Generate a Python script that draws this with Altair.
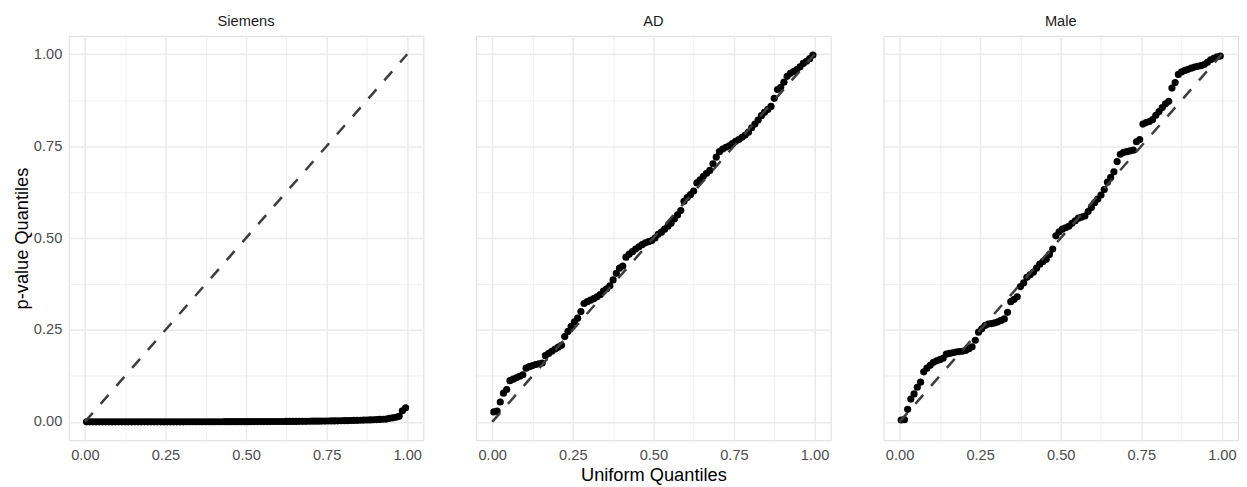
import altair as alt
import pandas as pd

PANELS = ["Siemens", "AD", "Male"]

SIEMENS_P = [
    0.00000, 0.00000, 0.00000, 0.00000, 0.00000, 0.00001, 0.00001, 0.00001, 0.00001, 0.00002,
    0.00002, 0.00002, 0.00003, 0.00003, 0.00003, 0.00004, 0.00004, 0.00005, 0.00005, 0.00006,
    0.00006, 0.00007, 0.00007, 0.00008, 0.00009, 0.00009, 0.00010, 0.00011, 0.00012, 0.00013,
    0.00014, 0.00015, 0.00016, 0.00017, 0.00018, 0.00019, 0.00021, 0.00022, 0.00024, 0.00025,
    0.00027, 0.00029, 0.00031, 0.00033, 0.00035, 0.00037, 0.00040, 0.00042, 0.00045, 0.00048,
    0.00051, 0.00054, 0.00058, 0.00061, 0.00065, 0.00069, 0.00073, 0.00078, 0.00083, 0.00088,
    0.00093, 0.00099, 0.00105, 0.00111, 0.00118, 0.00125, 0.00133, 0.00141, 0.00150, 0.00159,
    0.00169, 0.00180, 0.00191, 0.00203, 0.00216, 0.00230, 0.00245, 0.00261, 0.00278, 0.00296,
    0.00315, 0.00336, 0.00358, 0.00382, 0.00408, 0.00436, 0.00466, 0.00498, 0.00533, 0.00570,
    0.00610, 0.00655, 0.00705, 0.00760, 0.00950, 0.01100, 0.01250, 0.01500, 0.03000, 0.03800,
]

AD_P = [
    0.027, 0.029, 0.054, 0.078, 0.088, 0.112, 0.116, 0.120, 0.124, 0.128,
    0.146, 0.150, 0.153, 0.156, 0.158, 0.160, 0.180, 0.186, 0.192, 0.198,
    0.203, 0.208, 0.232, 0.246, 0.260, 0.272, 0.282, 0.300, 0.322, 0.327,
    0.331, 0.335, 0.340, 0.346, 0.356, 0.362, 0.370, 0.386, 0.404, 0.418,
    0.424, 0.448, 0.456, 0.463, 0.470, 0.476, 0.482, 0.487, 0.490, 0.493,
    0.500, 0.510, 0.516, 0.524, 0.532, 0.540, 0.552, 0.563, 0.575, 0.600,
    0.610, 0.618, 0.628, 0.650, 0.658, 0.668, 0.676, 0.684, 0.702, 0.720,
    0.735, 0.742, 0.747, 0.751, 0.757, 0.763, 0.768, 0.774, 0.780, 0.788,
    0.800, 0.810, 0.821, 0.833, 0.842, 0.850, 0.858, 0.880, 0.904, 0.910,
    0.924, 0.940, 0.948, 0.953, 0.958, 0.966, 0.975, 0.981, 0.988, 0.998,
]

MALE_P = [
    0.005, 0.006, 0.034, 0.062, 0.076, 0.094, 0.108, 0.136, 0.146, 0.154,
    0.162, 0.166, 0.169, 0.173, 0.184, 0.186, 0.188, 0.190, 0.191, 0.192,
    0.194, 0.199, 0.204, 0.222, 0.244, 0.253, 0.262, 0.266, 0.267, 0.269,
    0.272, 0.276, 0.280, 0.298, 0.327, 0.333, 0.340, 0.368, 0.378, 0.393,
    0.400, 0.407, 0.418, 0.429, 0.436, 0.442, 0.455, 0.470, 0.506, 0.517,
    0.524, 0.528, 0.532, 0.540, 0.547, 0.554, 0.557, 0.560, 0.572, 0.583,
    0.596, 0.606, 0.617, 0.632, 0.652, 0.665, 0.680, 0.708, 0.728, 0.733,
    0.735, 0.737, 0.739, 0.762, 0.768, 0.810, 0.814, 0.817, 0.822, 0.834,
    0.844, 0.855, 0.865, 0.872, 0.908, 0.923, 0.945, 0.952, 0.956, 0.959,
    0.962, 0.965, 0.967, 0.969, 0.972, 0.978, 0.985, 0.989, 0.993, 0.995,
]

DIAG = [0.0, 1.0]
GRID_TICKS = [0.0, 0.125, 0.25, 0.375, 0.5, 0.625, 0.75, 0.875, 1.0]

FONT = "Liberation Sans"
MAJOR_TEST = "abs(datum.value * 4 - round(datum.value * 4)) < 0.001"
LABEL_EXPR = MAJOR_TEST + " ? format(datum.value, '.2f') : ''"
GRID_WIDTH = {"condition": {"test": MAJOR_TEST, "value": 1.5}, "value": 0.8}


def panel_df(values):
    s = sorted(values)
    n = len(s)
    return pd.DataFrame({"u": [(i + 0.5) / n for i in range(n)], "p": s})


def make_axis(show_labels, title, title_pad):
    kw = dict(
        values=GRID_TICKS,
        labelExpr=LABEL_EXPR,
        grid=True,
        gridColor="#EBEBEB",
        gridWidth=GRID_WIDTH,
        domain=False,
        ticks=False,
        tickSize=0,
        labels=show_labels,
        labelFont=FONT,
        labelFontSize=14.7,
        labelColor="#4D4D4D",
        labelPadding=7,
        titleFont=FONT,
        titleFontSize=18.3,
        titleFontWeight="normal",
        titleColor="#000000",
        titlePadding=title_pad,
        title=title,
    )
    return alt.Axis(**kw)


def make_panel(name, values, show_y, show_xtitle):
    df = panel_df(values)
    diag = pd.DataFrame({"u": DIAG, "p": DIAG})
    scale = alt.Scale(domain=[-0.05, 1.05], nice=False, zero=False)
    x = alt.X("u:Q", scale=scale,
              axis=make_axis(True, "Uniform Quantiles" if show_xtitle else None, 5))
    y = alt.Y("p:Q", scale=scale,
              axis=make_axis(show_y, "p-value Quantiles" if show_y else None, 2))
    pts = alt.Chart(df).mark_circle(size=52, color="#000000", opacity=1).encode(x=x, y=y)
    line = alt.Chart(diag).mark_line(
        color="#3D3D3D", strokeWidth=2.5, strokeDash=[12, 12]
    ).encode(x=x, y=y)
    return alt.layer(pts, line).properties(
        width=356,
        height=406,
        title=alt.TitleParams(
            name, font=FONT, fontSize=14.7, fontWeight="normal",
            color="#1A1A1A", anchor="middle", offset=7,
        ),
    )


panels = [
    make_panel(PANELS[0], SIEMENS_P, True, False),
    make_panel(PANELS[1], AD_P, False, True),
    make_panel(PANELS[2], MALE_P, False, False),
]

chart = (
    alt.hconcat(*panels, spacing=51)
    .properties(padding={"left": 3, "top": 4, "right": 0, "bottom": 0})
    .configure_view(strokeWidth=0)
    .configure(background="#FFFFFF")
)

chart.save("out.html", embed_options={"renderer": "svg", "actions": False})
